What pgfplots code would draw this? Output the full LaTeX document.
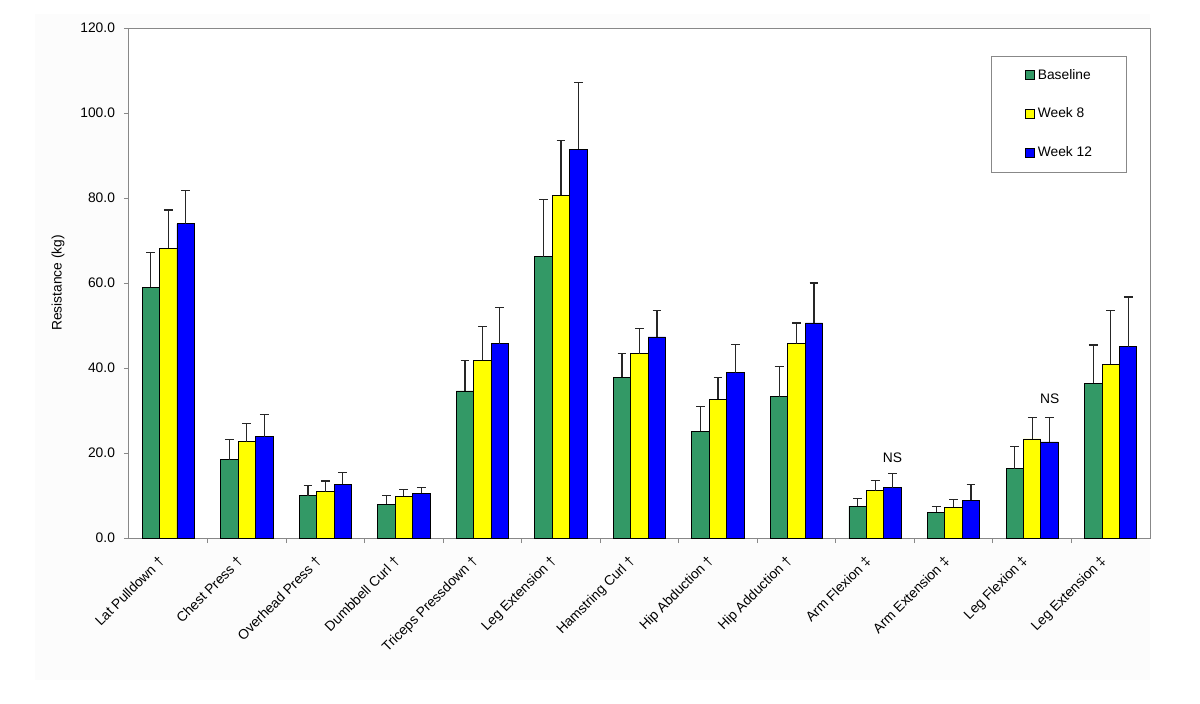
\documentclass[border=0pt]{standalone}
\usepackage{pgfplots}
\pgfplotsset{compat=1.18}
\usepackage{pgfplotstable}
\usepackage{fontspec}
\setmainfont{Liberation Sans}
\definecolor{cgreen}{RGB}{51,153,102}
\definecolor{cyellow}{RGB}{255,255,0}
\definecolor{cblue}{RGB}{0,0,255}
\definecolor{frame}{RGB}{136,136,136}

% x  value  err
\pgfplotstableread{
x y e
0 59.0 8.1
1 18.4 4.8
2 9.9 2.4
3 8.0 2.0
4 34.6 7.2
5 66.2 13.5
6 37.8 5.6
7 25.1 5.8
8 33.2 7.2
9 7.5 1.8
10 6.1 1.4
11 16.3 5.2
12 36.4 9.0
}\baseline
\pgfplotstableread{
x y e
0 68.2 9.0
1 22.7 4.2
2 10.9 2.5
3 9.8 1.7
4 41.8 8.0
5 80.7 12.9
6 43.4 5.9
7 32.6 5.2
8 45.7 4.9
9 11.1 2.5
10 7.2 1.8
11 23.3 5.1
12 40.9 12.6
}\weekeight
\pgfplotstableread{
x y e
0 73.9 7.9
1 23.8 5.2
2 12.7 2.7
3 10.5 1.4
4 45.7 8.5
5 91.5 15.6
6 47.3 6.2
7 38.9 6.6
8 50.6 9.4
9 11.8 3.3
10 8.9 3.6
11 22.6 5.8
12 45.0 11.7
}\weektwelve

\begin{document}
\begin{tikzpicture}
\fill[fill={rgb,255:red,252;green,252;blue,252}] (-47pt,-71pt) rectangle (510.5pt,262pt);
\begin{axis}[
  scale only axis,
  width=510.5pt, height=255pt,
  xmin=-0.5, xmax=12.5,
  ymin=0, ymax=120,
  ybar=0pt, bar width=8.72pt,
  axis background/.style={fill=white},
  axis line style={frame, line width=0.5pt},
  ytick={0,20,...,120},
  xtick={0,...,12},
  xticklabels={Lat Pulldown †, Chest Press †, Overhead Press †, Dumbbell Curl †, Triceps Pressdown †, Leg Extension †, Hamstring Curl †, Hip Abduction †, Hip Adduction †, Arm Flexion ‡, Arm Extension ‡, Leg Flexion ‡, Leg Extension ‡},
  minor xtick={0.5,1.5,...,11.5},
  major x tick style={draw=none},
  minor tick length=2.5pt,
  major tick length=2.5pt,
  tick align=outside,
  tick pos=left,
  tick style={frame, line width=0.5pt},
  every tick label/.append style={font=\fontsize{6.9}{8.3}\selectfont, text=black},
  /pgf/number format/assume math mode=true,
  yticklabel style={xshift=-1pt, /pgf/number format/fixed, /pgf/number format/fixed zerofill, /pgf/number format/precision=1},
  xticklabel style={rotate=45, anchor=east, inner sep=0pt, xshift=-7.9pt, yshift=-3.4pt},
  ylabel={Resistance (kg)},
  every axis y label/.style={at={(rel axis cs:0,0.5)}, rotate=90, anchor=center, yshift=35.5pt, font=\fontsize{6.9}{8.3}\selectfont},
  legend style={draw=frame, line width=0.5pt, at={(0.977,0.946)}, anchor=north east,
    font=\fontsize{6.9}{8.3}\selectfont, inner xsep=17pt, inner ysep=6.5pt,
    row sep=13.05pt, column sep=1.5pt,
    nodes={inner sep=0pt, text height=5pt, text depth=1.4pt}},
  legend cell align=left,
  legend image code/.code={\draw[#1, line width=0.4pt] (0pt,-2.2pt) rectangle (4.5pt,2.3pt);},
  clip=false,
]
\pgfplotsset{
  mybar/.style={draw=black, line width=0.45pt,
    error bars/y dir=plus, error bars/y explicit,
    error bars/error bar style={black!85, line width=0.6pt},
    error bars/error mark options={rotate=90, black!85, mark size=2.2pt, line width=0.6pt}}
}
\addplot[mybar, fill=cgreen] table[x=x, y=y, y error=e] {\baseline};
\addplot[mybar, fill=cyellow] table[x=x, y=y, y error=e] {\weekeight};
\addplot[mybar, fill=cblue] table[x=x, y=y, y error=e] {\weektwelve};
\legend{Baseline, Week 8, Week 12}
\node[font=\fontsize{6.9}{8.3}\selectfont] at (axis cs:9.222,19.0) {NS};
\node[font=\fontsize{6.9}{8.3}\selectfont] at (axis cs:11.222,32.7) {NS};
\end{axis}
\path (-64.5pt,-82.5pt) rectangle (535.5pt,269pt);
\end{tikzpicture}
\end{document}
